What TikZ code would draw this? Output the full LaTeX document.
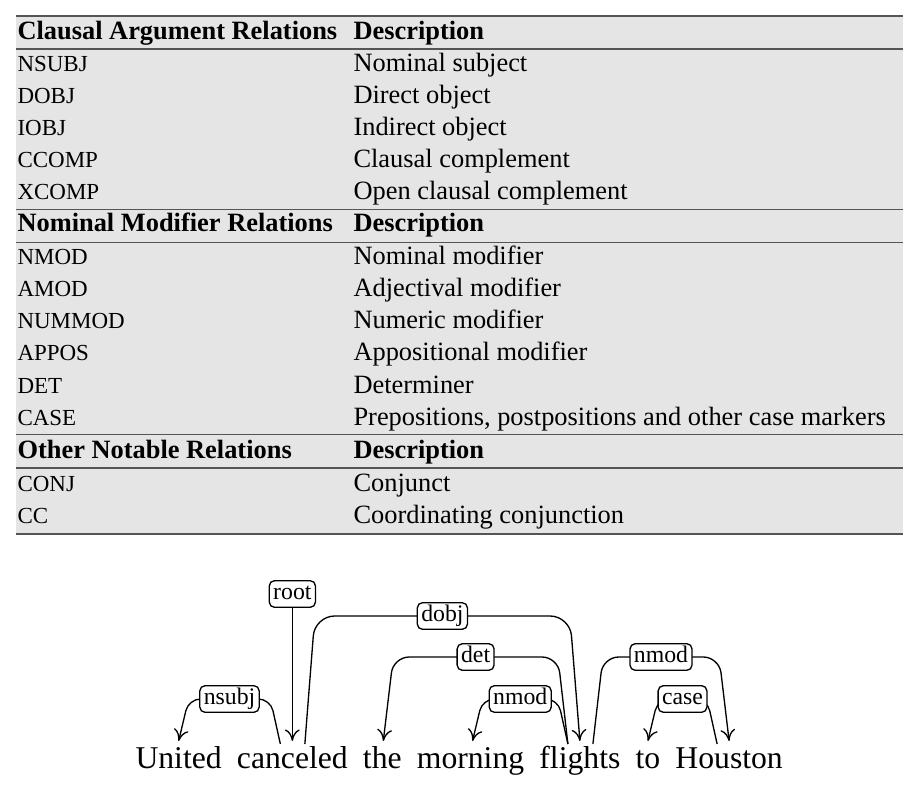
\documentclass[tikz,border=0pt]{standalone}
\usepackage{fontspec}
\setmainfont{Liberation Serif}
\usetikzlibrary{calc,arrows.meta}
\newdimen\pxu
\pxu=0.37879pt
\definecolor{tabbg}{HTML}{E5E5E5}
\definecolor{rulecol}{HTML}{555555}
\tikzset{
  hd/.style={anchor=base west, inner sep=0pt, font=\bfseries},
  tx/.style={anchor=base west, inner sep=0pt},
  sc/.style={anchor=base west, inner sep=0pt, font=\fontsize{8.7pt}{10pt}\selectfont},
  tabrule/.style={draw=rulecol, line width=1.2\pxu},
  thickrule/.style={draw=rulecol, line width=2\pxu},
  word/.style={anchor=base west, inner sep=0pt, font=\fontsize{12pt}{14pt}\selectfont},
  dep/.style={draw=black, line width=0.5pt, -{To[length=4.4pt,width=5.6pt]}, rounded corners=#1},
  dep/.default=6pt,
  deplab/.style={draw=black, fill=white, line width=0.5pt, rounded corners=2pt, inner xsep=1.5pt, inner ysep=0.9pt, text height=6.3pt, text depth=2pt, font=\fontsize{9pt}{11pt}\selectfont},
}
\begin{document}
\begin{tikzpicture}[x=0.37879pt, y=-0.37879pt]
\useasboundingbox (0,0) rectangle (912,790);
% ---------- table ----------
\fill[tabbg] (16,16) rectangle (903,533.5);
\draw[thickrule] (16,16) -- (903,16);
\draw[tabrule] (16,49) -- (903,49);
\draw[tabrule] (16,209.5) -- (903,209.5);
\draw[tabrule] (16,242.5) -- (903,242.5);
\draw[tabrule] (16,434.5) -- (903,434.5);
\draw[tabrule] (16,468) -- (903,468);
\draw[thickrule] (16,533.5) -- (903,533.5);

\node[hd] (h1a) at (17,40) {Clausal Argument Relations};
\node[hd] (h1b) at (353,40) {Description};
\node[sc] (r1a) at (17,72) {NSUBJ};   \node[tx] (r1b) at (353,72) {Nominal subject};
\node[sc] (r2a) at (17,104) {DOBJ};   \node[tx] (r2b) at (353,104) {Direct object};
\node[sc] (r3a) at (17,136) {IOBJ};   \node[tx] (r3b) at (353,136) {Indirect object};
\node[sc] (r4a) at (17,168) {CCOMP};  \node[tx] (r4b) at (353,168) {Clausal complement};
\node[sc] (r5a) at (17,200) {XCOMP};  \node[tx] (r5b) at (353,200) {Open clausal complement};

\node[hd] (h2a) at (17,232) {Nominal Modifier Relations};
\node[hd] (h2b) at (353,232) {Description};
\node[sc] (r6a) at (17,265) {NMOD};    \node[tx] (r6b) at (353,265) {Nominal modifier};
\node[sc] (r7a) at (17,297) {AMOD};    \node[tx] (r7b) at (353,297) {Adjectival modifier};
\node[sc] (r8a) at (17,329) {NUMMOD};  \node[tx] (r8b) at (353,329) {Numeric modifier};
\node[sc] (r9a) at (17,361) {APPOS};   \node[tx] (r9b) at (353,361) {Appositional modifier};
\node[sc] (r10a) at (17,393) {DET};    \node[tx] (r10b) at (353,393) {Determiner};
\node[sc] (r11a) at (17,425) {CASE};   \node[tx] (r11b) at (353,425) {Prepositions, postpositions and other case markers};

\node[hd] (h3a) at (17,458) {Other Notable Relations};
\node[hd] (h3b) at (353,458) {Description};
\node[sc] (r12a) at (17,491) {CONJ};   \node[tx] (r12b) at (353,491) {Conjunct};
\node[sc] (r13a) at (17,523.5) {CC};   \node[tx] (r13b) at (353,523.5) {Coordinating conjunction};

% ---------- dependency diagram ----------
\node[word] (w1) at (135,768) {United};
\node[word] (w2) at ([xshift=14.15\pxu]w1.base east) {canceled};
\node[word] (w3) at ([xshift=14.15\pxu]w2.base east) {the};
\node[word] (w4) at ([xshift=14.15\pxu]w3.base east) {morning};
\node[word] (w5) at ([xshift=14.15\pxu]w4.base east) {flights};
\node[word] (w6) at ([xshift=14.15\pxu]w5.base east) {to};
\node[word] (w7) at ([xshift=14.15\pxu]w6.base east) {Houston};

% incoming tips (27 above baseline), outgoing starts (24 above baseline)
\coordinate (u-in) at ([yshift=27\pxu]w1.base);
\coordinate (c-l)  at ([xshift=-12\pxu,yshift=24\pxu]w2.base);
\coordinate (c-in) at ([yshift=27\pxu]w2.base);
\coordinate (c-r)  at ([xshift=12.5\pxu,yshift=24\pxu]w2.base);
\coordinate (t-in) at ([xshift=1\pxu,yshift=27\pxu]w3.base);
\coordinate (m-in) at ([xshift=2\pxu,yshift=27\pxu]w4.base);
\coordinate (f-l)  at ([xshift=-12\pxu,yshift=24\pxu]w5.base);
\coordinate (f-in) at ([yshift=27\pxu]w5.base);
\coordinate (f-r)  at ([xshift=13\pxu,yshift=24\pxu]w5.base);
\coordinate (o-in) at ([yshift=27\pxu]w6.base);
\coordinate (h-l)  at ([xshift=-12\pxu,yshift=24\pxu]w7.base);
\coordinate (h-in) at ([yshift=27\pxu]w7.base);

\coordinate (L1) at (0,699);
\coordinate (L2) at (0,657);
\coordinate (L3) at (0,616);
\coordinate (LR) at (0,594);

% root
\node[deplab] (root) at (c-in |- LR) {root};
\draw[dep] (root) -- (c-in);

% nsubj
\draw[dep=4.5pt] (c-l) -- ($(c-l |- L1)+(-10,0)$) -- node[deplab]{nsubj} ($(u-in |- L1)+(10,0)$) -- (u-in);
% dobj
\draw[dep=7.5pt] (c-r) -- ($(c-r |- L3)+(10,0)$) -- node[deplab]{dobj} ($(f-in |- L3)+(-10,0)$) -- (f-in);
% det
\draw[dep=6pt] (f-l) -- ($(f-l |- L2)+(-10,0)$) -- node[deplab]{det} ($(t-in |- L2)+(10,0)$) -- (t-in);
% nmod (flights -> morning)
\draw[dep=4.5pt] (f-l) -- ($(f-l |- L1)+(-10,0)$) -- node[deplab]{nmod} ($(m-in |- L1)+(10,0)$) -- (m-in);
% nmod (flights -> Houston)
\draw[dep=6pt] (f-r) -- ($(f-r |- L2)+(10,0)$) -- node[deplab]{nmod} ($(h-in |- L2)+(-10,0)$) -- (h-in);
% case
\draw[dep=4.5pt] (h-l) -- ($(h-l |- L1)+(-10,0)$) -- node[deplab]{case} ($(o-in |- L1)+(10,0)$) -- (o-in);
\end{tikzpicture}
\end{document}
